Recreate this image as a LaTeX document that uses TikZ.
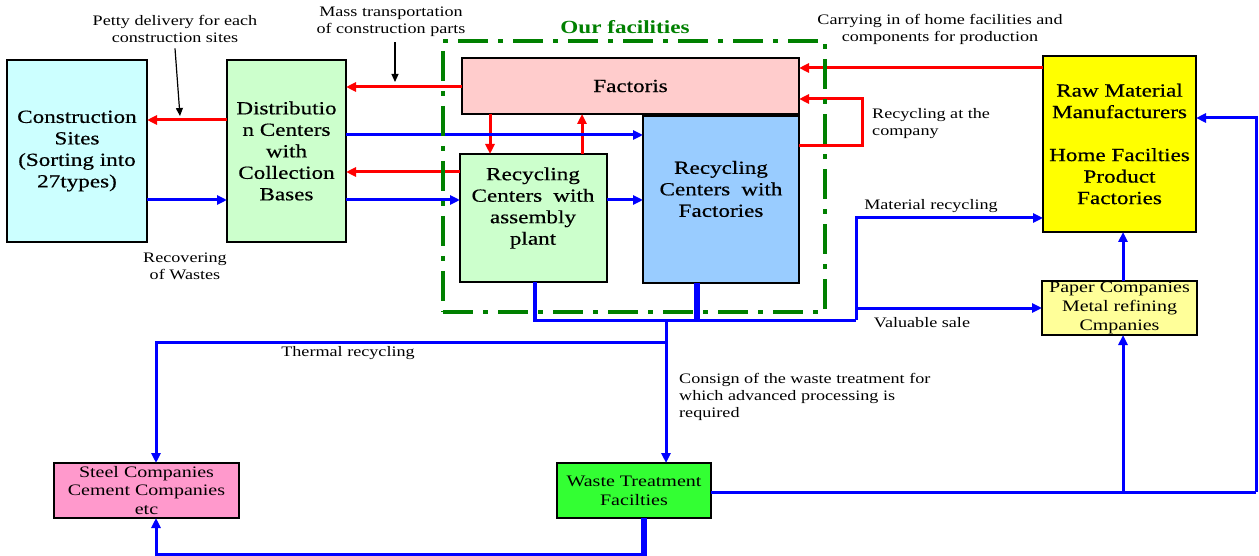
\documentclass[tikz,border=0pt]{standalone}
\usepackage{fontspec}
\setmainfont{Liberation Serif}
\newfontfamily\wf[FakeStretch=1.25]{Liberation Serif}
\newfontfamily\wfb[FakeStretch=1.25,FakeBold=0.5]{Liberation Serif}
\usetikzlibrary{arrows.meta}
\definecolor{cscol}{HTML}{CCFFFF}
\definecolor{dccol}{HTML}{CCFFCC}
\definecolor{faccol}{HTML}{FFCCCC}
\definecolor{rcfcol}{HTML}{99CCFF}
\definecolor{rawcol}{HTML}{FFFF00}
\definecolor{papcol}{HTML}{FFFF99}
\definecolor{steelcol}{HTML}{FF99CC}
\definecolor{wastecol}{HTML}{33FF33}
\definecolor{fgreen}{HTML}{008000}
\newcommand\fbig{\wfb\fontsize{18.5}{21.5}\selectfont}
\newcommand\fsmallbox{\wf\fontsize{16}{18.8}\selectfont}
\newcommand\flab{\wf\fontsize{14.5}{17}\selectfont}
\tikzset{
  box/.style={draw=black, line width=2.5pt, inner sep=0pt, outer sep=0pt, anchor=north west, align=center, font=\fbig},
  sbox/.style={box, font=\fsmallbox},
  btext/.style={inner sep=0pt, align=center, font=\fbig},
  lab/.style={inner sep=0pt, font=\flab},
  rar/.style={draw=red, line width=3pt, -{Triangle[length=10pt,width=9pt]}},
  bar/.style={draw=blue, line width=3pt, -{Triangle[length=10pt,width=9pt]}},
  bline/.style={draw=blue, line width=3pt},
  bthick/.style={draw=blue, line width=5.5pt},
  kar/.style={draw=black, line width=1.2pt, -{Triangle[length=8pt,width=7pt]}},
  ourbox/.style={draw=fgreen, line width=4pt, dash pattern=on 30pt off 10pt on 5pt off 10pt, inner sep=0pt, outer sep=0pt, anchor=north west}
}
\begin{document}
\begin{tikzpicture}[x=1pt,y=-1pt]
\useasboundingbox (0,0) rectangle (1259,556);
\fill[white] (0,0) rectangle (1259,556);

% boxes
\node[box, fill=cscol, minimum width=140pt, minimum height=182pt] (cs) at (7,60) {Construction\\Sites\\(Sorting into\\27types)};
\node[box, fill=dccol, minimum width=119pt, minimum height=182pt] (dc) at (227,60) {Distributio\\n Centers\\with\\Collection\\Bases};
\node[box, fill=faccol, minimum width=337pt, minimum height=56pt] (fac) at (462,58) {Factoris};
\node[box, fill=dccol, minimum width=147pt, minimum height=128pt] (rca) at (460,154) {};
\node[btext] (rcaT) at (533,208) {Recycling\\Centers\hspace{.6em}with\\assembly\\plant};
\node[box, fill=rcfcol, minimum width=156pt, minimum height=167pt] (rcf) at (643,116) {};
\node[btext] (rcfT) at (721,189) {Recycling\\Centers\hspace{.6em}with\\Factories};
\node[box, fill=rawcol, minimum width=153pt, minimum height=176pt] (raw) at (1043,56) {Raw Material\\Manufacturers\\[21.5pt]Home Facilties\\Product\\Factories};
\node[sbox, fill=papcol, minimum width=155pt, minimum height=54pt] (pap) at (1042,281) {Paper Companies\\Metal refining\\Cmpanies};
\node[sbox, fill=steelcol, minimum width=185pt, minimum height=55pt] (steel) at (54,463) {Steel Companies\\Cement Companies\\etc};
\node[sbox, fill=wastecol, minimum width=154pt, minimum height=55pt] (waste) at (557,463) {Waste Treatment\\Facilties};

% junction coordinates
\coordinate (loop) at (862,99);
\coordinate (jl) at (535,320);
\coordinate (jf) at (697,320);
\coordinate (jr) at (856,320);
\coordinate (jm) at (666,320);
\coordinate (jt) at (666,342);
\coordinate (jv) at (856,308);
\coordinate (wb) at (644,554);
\coordinate (sb) at (156,554);
\coordinate (wr) at (1256,492);
\coordinate (wp) at (1123,492);
\coordinate (rr) at (1256,118);
\coordinate (pettyend) at (180,116);
\coordinate (massend) at (395,82);

% red connectors
\draw[rar] (raw.west |- 0,68) -- (fac.east |- 0,68);
\draw[rar] (rcf.east |- 0,146) -| (loop) -- (fac.east |- loop);
\draw[rar] (fac.west |- 0,87) -- (dc.east |- 0,87);
\draw[rar] (dc.west |- 0,120) -- (cs.east |- 0,120);
\draw[rar] (rca.west |- 0,172) -- (dc.east |- 0,172);
\draw[rar] (fac.south -| 490,0) -- (rca.north -| 490,0);
\draw[rar] (rca.north -| 582,0) -- (fac.south -| 582,0);

% blue connectors
\draw[bar] (cs.east |- 0,200) -- (dc.west |- 0,200);
\draw[bar] (dc.east |- 0,135) -- (rcf.west |- 0,135);
\draw[bar] (dc.east |- 0,200) -- (rca.west |- 0,200);
\draw[bar] (rca.east |- 0,200) -- (rcf.west |- 0,200);

\draw[bline] (jl) -- (jr);
\draw[bar] (jr) |- (raw.west |- 0,218);
\draw[bar] (jv) -- (pap.west |- jv);
\draw[bar] (jm) -- (waste.north -| jm);
\draw[bar] (jt) -| (steel.north -| sb);
\draw[bar] (wb) -- (sb) -- (steel.south -| sb);
\draw[bthick] (waste.south -| wb) -- ([yshift=-1.5pt]wb);
\draw[bline] (waste.east |- wr) -- (wr);
\draw[bar] (wr) |- (raw.east |- rr);
\draw[bar] (wp) -- (pap.south -| wp);
\draw[bar] (pap.north -| wp) -- (raw.south -| wp);
\draw[bline, line width=4pt] (rca.south -| jl) -- ([yshift=-1.5pt]jl);

% our facilities frame
\node[ourbox, minimum width=382pt, minimum height=271pt] (of) at (443,41) {};
\node[inner sep=0pt, font=\wf\fontsize{18.5}{21.5}\selectfont\bfseries, text=fgreen] (oft) at (625,27) {Our facilities};

% thick vertical out of the facilities
\draw[bthick] (rcf.south -| jf) -- ([yshift=-1.5pt]jf);

% labels
\node[lab, align=center] (petty) at (175,28.5) {Petty delivery for each\\construction sites};
\node[lab, align=center] (mass) at (391,22) {Mass transportation\\of construction parts};
\node[lab, align=center] (carry) at (940,29.5) {Carrying in of home facilities and\\components for production};
\node[lab, align=left, anchor=west] (rac) at (872,124) {Recycling at the\\company};
\node[lab] (matrec) at (931,206) {Material recycling};
\node[lab] (valsale) at (922,323) {Valuable sale};
\node[lab] (therm) at (348,353) {Thermal recycling};
\node[lab, align=left, anchor=west] (consign) at (679,397) {Consign of the waste treatment for\\which advanced processing is\\required};
\node[lab, align=center] (recov) at (185,266.5) {Recovering\\of Wastes};

\draw[kar] ([yshift=-6pt]petty.south) -- (pettyend);
\draw[kar] ([xshift=4pt,yshift=-5pt]mass.south) -- (massend);
\end{tikzpicture}
\end{document}
